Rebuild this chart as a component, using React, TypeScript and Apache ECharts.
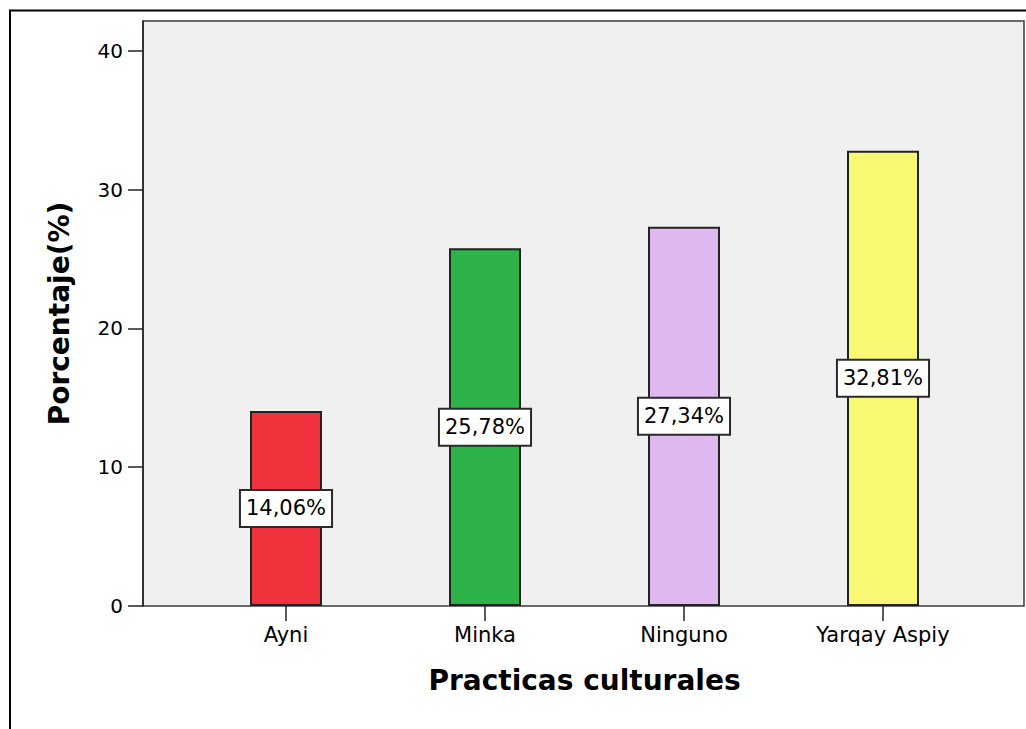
import React, { useEffect, useRef } from "react";
import * as echarts from "echarts";

// Practicas culturales: share of respondents per practice (%)
const categories = ["Ayni", "Minka", "Ninguno", "Yarqay Aspiy"];
const percentages = [14.06, 25.78, 27.34, 32.81];
const barColors = ["#f0323c", "#2db34a", "#dfb8f0", "#f9f872"];
const yTicks = [0, 10, 20, 30, 40];

const FONT = "DejaVu Sans";

export default function App() {
  const ref = useRef<HTMLDivElement>(null);

  useEffect(() => {
    if (!ref.current) return;
    const chart = echarts.init(ref.current, undefined, { renderer: "svg" });

    const top = 21;
    const bottom = 123;
    const yMax = 42.16;

    chart.setOption({
      animation: false,
      backgroundColor: "#ffffff",
      grid: [
        {
          left: 143,
          right: 2,
          top,
          bottom,
          show: true,
          backgroundColor: "#f0f0f0",
          borderColor: "#3c3c3c",
          borderWidth: 1.5,
          containLabel: false,
          outerBoundsMode: "none",
        },
        {
          left: 186.5,
          right: 43.5,
          top,
          bottom,
          containLabel: false,
          outerBoundsMode: "none",
        },
      ],
      xAxis: [
        {
          gridIndex: 0,
          type: "value",
          min: 0,
          max: 1,
          show: false,
        },
        {
          gridIndex: 1,
          type: "category",
          data: categories,
          axisLine: { show: false },
          axisTick: {
            show: true,
            alignWithLabel: true,
            length: 15,
            lineStyle: { color: "#222", width: 1.5 },
          },
          axisLabel: {
            margin: 18,
            fontFamily: FONT,
            fontSize: 21,
            color: "#000",
          },
          name: "Practicas culturales",
          nameLocation: "middle",
          nameGap: 60,
          nameTextStyle: {
            fontFamily: FONT,
            fontSize: 28,
            fontWeight: "bold",
            color: "#000",
          },
          splitLine: { show: false },
        },
      ],
      yAxis: [
        {
          gridIndex: 0,
          type: "value",
          min: 0,
          max: yMax,
          axisLine: { show: true, lineStyle: { color: "#222", width: 1.5 } },
          axisTick: {
            show: true,
            length: 15,
            customValues: yTicks,
            lineStyle: { color: "#222", width: 1.5 },
          },
          axisLabel: {
            customValues: yTicks,
            margin: 20,
            fontFamily: FONT,
            fontSize: 20,
            color: "#000",
          },
          splitLine: { show: false },
          name: "Porcentaje(%)",
          nameLocation: "middle",
          nameGap: 70,
          nameTextStyle: {
            fontFamily: FONT,
            fontSize: 28,
            fontWeight: "bold",
            color: "#000",
          },
        },
        {
          gridIndex: 1,
          type: "value",
          min: 0,
          max: yMax,
          show: false,
          splitLine: { show: false },
        },
      ],
      series: [
        {
          type: "bar",
          xAxisIndex: 1,
          yAxisIndex: 1,
          barWidth: 72,
          data: percentages.map((v, i) => ({
            value: v,
            itemStyle: { color: barColors[i] },
          })),
          itemStyle: { borderColor: "#222", borderWidth: 2 },
          label: {
            show: true,
            position: "inside",
            formatter: (p: any) => p.value.toFixed(2).replace(".", ",") + "%",
            fontFamily: FONT,
            fontSize: 21,
            color: "#000",
            backgroundColor: "#ffffff",
            borderColor: "#2a2a2a",
            borderWidth: 2,
            padding: [8, 5, 6, 5],
          },
        },
      ],
      graphic: [
        {
          type: "polyline",
          silent: true,
          shape: {
            points: [
              [10, 729],
              [10, 10.5],
              [1026, 10.5],
            ],
          },
          style: { stroke: "#000", lineWidth: 2, fill: "none" },
        },
      ],
    });

    return () => chart.dispose();
  }, []);

  return (
    <div
      ref={ref}
      style={{ position: "fixed", left: 0, top: 0, width: 1026, height: 729 }}
    />
  );
}
